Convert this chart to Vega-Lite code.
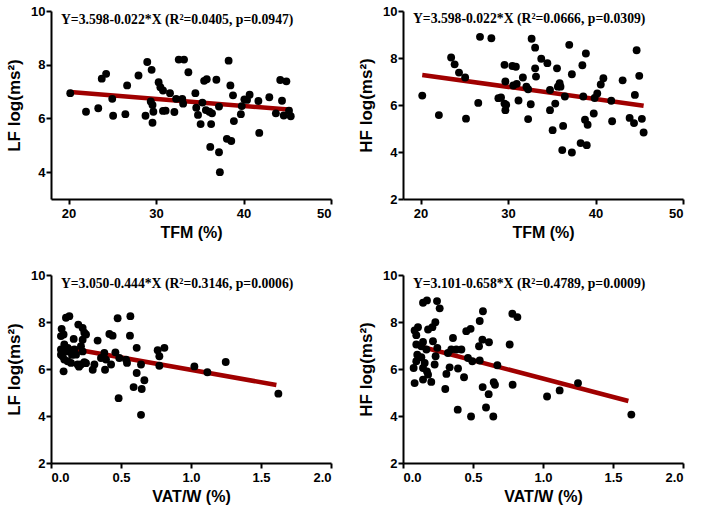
{
  "$schema": "https://vega.github.io/schema/vega-lite/v6.json",
  "padding": 5,
  "background": "white",
  "bounds": "flush",
  "columns": 2,
  "spacing": {"row": 76, "column": 72},
  "config": {
    "view": {"stroke": null},
    "axis": {
      "grid": false, "domainColor": "black", "domainWidth": 2, "tickColor": "black", "tickWidth": 2, "tickSize": 5,
      "labelFont": "Liberation Sans", "labelFontWeight": "bold", "labelFontSize": 13, "labelColor": "black",
      "titleFont": "Liberation Sans", "titleFontWeight": "bold", "titleFontSize": 17, "titleColor": "black"
    },
    "axisX": {"labelPadding": 3, "titlePadding": 4, "titleFontSize": 16},
    "axisY": {"labelPadding": 1, "titlePadding": 7}
  },
  "datasets": {
    "p1": [
      {"x":20.2,"y":6.94},{"x":22.0,"y":6.25},{"x":23.4,"y":6.38},{"x":23.8,"y":7.48},{"x":24.3,"y":7.66},{"x":25.0,"y":6.73},{"x":25.1,"y":6.1},{"x":26.7,"y":7.23},{"x":26.5,"y":6.16},{"x":28.0,"y":7.6},{"x":29.0,"y":8.1},{"x":28.8,"y":6.1},{"x":29.5,"y":7.81},{"x":29.4,"y":6.63},{"x":29.6,"y":6.5},{"x":29.7,"y":6.25},{"x":29.6,"y":5.84},{"x":30.3,"y":7.35},{"x":30.5,"y":7.16},{"x":30.8,"y":7.04},{"x":30.8,"y":6.28},{"x":31.1,"y":6.29},{"x":31.6,"y":6.94},{"x":32.1,"y":6.24},{"x":32.3,"y":6.73},{"x":32.6,"y":8.19},{"x":33.2,"y":8.19},{"x":33.0,"y":6.73},{"x":33.1,"y":6.55},{"x":33.7,"y":7.72},{"x":34.5,"y":6.94},{"x":34.6,"y":6.4},{"x":34.8,"y":6.13},{"x":35.1,"y":5.79},{"x":35.3,"y":6.59},{"x":35.5,"y":7.4},{"x":35.8,"y":7.46},{"x":35.7,"y":6.31},{"x":36.1,"y":6.25},{"x":36.2,"y":4.94},{"x":36.3,"y":5.79},{"x":36.4,"y":6.19},{"x":36.9,"y":7.44},{"x":37.2,"y":6.44},{"x":37.2,"y":4.74},{"x":37.3,"y":4.0},{"x":38.1,"y":5.24},{"x":38.3,"y":8.15},{"x":38.5,"y":7.23},{"x":38.6,"y":5.16},{"x":38.8,"y":6.86},{"x":38.9,"y":5.9},{"x":39.7,"y":6.16},{"x":39.8,"y":6.46},{"x":40.1,"y":6.71},{"x":40.4,"y":6.69},{"x":40.7,"y":6.88},{"x":41.7,"y":6.65},{"x":41.8,"y":5.46},{"x":42.95,"y":6.79},{"x":43.7,"y":6.19},{"x":44.2,"y":7.43},{"x":44.4,"y":6.66},{"x":44.6,"y":6.11},{"x":44.9,"y":7.38},{"x":45.2,"y":6.29},{"x":45.4,"y":6.08}
    ],
    "p2": [
      {"x":20.2,"y":6.40},{"x":22.1,"y":5.57},{"x":23.5,"y":8.02},{"x":23.9,"y":7.73},{"x":24.4,"y":7.38},{"x":25.1,"y":7.17},{"x":25.2,"y":5.42},{"x":26.6,"y":6.09},{"x":26.8,"y":8.9},{"x":28.1,"y":8.84},{"x":28.9,"y":6.29},{"x":29.2,"y":6.32},{"x":29.6,"y":7.71},{"x":29.7,"y":7.0},{"x":29.6,"y":6.06},{"x":29.8,"y":6.0},{"x":29.7,"y":5.78},{"x":30.5,"y":7.66},{"x":30.9,"y":7.63},{"x":30.6,"y":6.83},{"x":31.0,"y":6.9},{"x":31.2,"y":6.19},{"x":31.7,"y":7.17},{"x":32.1,"y":6.78},{"x":32.3,"y":6.67},{"x":32.3,"y":5.4},{"x":32.6,"y":6.03},{"x":32.7,"y":8.82},{"x":33.1,"y":8.44},{"x":33.1,"y":7.56},{"x":33.2,"y":7.21},{"x":33.8,"y":7.97},{"x":34.5,"y":7.78},{"x":34.8,"y":6.64},{"x":34.8,"y":5.78},{"x":35.1,"y":4.93},{"x":35.4,"y":6.06},{"x":35.6,"y":7.56},{"x":35.7,"y":6.78},{"x":35.9,"y":6.93},{"x":36.0,"y":6.78},{"x":36.2,"y":4.08},{"x":36.3,"y":5.11},{"x":36.5,"y":6.36},{"x":37.0,"y":8.56},{"x":37.3,"y":7.31},{"x":37.3,"y":3.98},{"x":38.3,"y":4.38},{"x":38.5,"y":7.69},{"x":38.6,"y":6.36},{"x":38.8,"y":5.37},{"x":38.9,"y":8.19},{"x":39.1,"y":5.16},{"x":39.0,"y":4.29},{"x":39.8,"y":5.64},{"x":39.9,"y":6.3},{"x":40.2,"y":6.49},{"x":40.6,"y":6.87},{"x":40.9,"y":7.14},{"x":41.8,"y":6.18},{"x":41.9,"y":5.31},{"x":43.1,"y":7.05},{"x":43.9,"y":5.45},{"x":44.4,"y":5.23},{"x":44.5,"y":6.43},{"x":44.7,"y":8.33},{"x":45.0,"y":7.24},{"x":45.3,"y":5.41},{"x":45.5,"y":4.83}
    ],
    "p3": [
      {"x":0.107,"y":8.18},{"x":0.131,"y":8.25},{"x":0.076,"y":7.71},{"x":0.195,"y":7.89},{"x":0.226,"y":7.75},{"x":0.238,"y":7.54},{"x":0.25,"y":7.47},{"x":0.09,"y":7.47},{"x":0.071,"y":7.40},{"x":0.162,"y":7.28},{"x":0.226,"y":7.25},{"x":0.333,"y":7.21},{"x":0.095,"y":7.04},{"x":0.071,"y":6.83},{"x":0.107,"y":6.75},{"x":0.131,"y":6.75},{"x":0.167,"y":6.83},{"x":0.214,"y":6.97},{"x":0.226,"y":6.75},{"x":0.179,"y":6.61},{"x":0.071,"y":6.61},{"x":0.083,"y":6.54},{"x":0.095,"y":6.40},{"x":0.143,"y":6.26},{"x":0.119,"y":6.33},{"x":0.19,"y":6.19},{"x":0.238,"y":6.29},{"x":0.214,"y":6.19},{"x":0.09,"y":5.9},{"x":0.31,"y":6.19},{"x":0.298,"y":5.97},{"x":0.386,"y":5.97},{"x":0.429,"y":6.19},{"x":0.381,"y":6.68},{"x":0.357,"y":6.47},{"x":0.393,"y":6.40},{"x":0.417,"y":7.49},{"x":0.44,"y":7.42},{"x":0.476,"y":8.16},{"x":0.567,"y":8.25},{"x":0.564,"y":7.42},{"x":0.46,"y":6.71},{"x":0.488,"y":6.47},{"x":0.536,"y":6.40},{"x":0.543,"y":6.26},{"x":0.612,"y":6.9},{"x":0.643,"y":6.19},{"x":0.612,"y":5.83},{"x":0.667,"y":5.52},{"x":0.59,"y":5.23},{"x":0.648,"y":5.15},{"x":0.483,"y":4.76},{"x":0.643,"y":4.05},{"x":0.762,"y":6.8},{"x":0.81,"y":6.9},{"x":0.774,"y":6.54},{"x":0.774,"y":6.14},{"x":1.024,"y":6.11},{"x":1.117,"y":5.86},{"x":1.248,"y":6.3},{"x":1.624,"y":4.95},{"x":0.12,"y":6.9},{"x":0.15,"y":6.6},{"x":0.2,"y":6.1},{"x":0.25,"y":6.25}
    ],
    "p4": [
      {"x":0.143,"y":8.82},{"x":0.171,"y":8.92},{"x":0.243,"y":8.89},{"x":0.262,"y":8.58},{"x":0.571,"y":8.46},{"x":0.781,"y":8.35},{"x":0.817,"y":8.21},{"x":0.548,"y":8.04},{"x":0.231,"y":7.99},{"x":0.107,"y":7.78},{"x":0.083,"y":7.64},{"x":0.095,"y":7.44},{"x":0.179,"y":7.68},{"x":0.21,"y":7.78},{"x":0.452,"y":7.61},{"x":0.483,"y":7.71},{"x":0.357,"y":7.32},{"x":0.567,"y":7.25},{"x":0.614,"y":7.14},{"x":0.543,"y":6.97},{"x":0.762,"y":7.04},{"x":0.095,"y":7.04},{"x":0.143,"y":7.15},{"x":0.214,"y":7.18},{"x":0.131,"y":6.97},{"x":0.245,"y":6.9},{"x":0.167,"y":6.83},{"x":0.321,"y":6.68},{"x":0.345,"y":6.83},{"x":0.381,"y":6.83},{"x":0.417,"y":6.83},{"x":0.102,"y":6.61},{"x":0.131,"y":6.5},{"x":0.233,"y":6.54},{"x":0.464,"y":6.47},{"x":0.495,"y":6.33},{"x":0.548,"y":6.36},{"x":0.095,"y":6.33},{"x":0.155,"y":6.26},{"x":0.226,"y":6.19},{"x":0.674,"y":6.16},{"x":0.076,"y":6.04},{"x":0.143,"y":6.04},{"x":0.171,"y":5.9},{"x":0.333,"y":6.07},{"x":0.393,"y":6.02},{"x":0.31,"y":5.79},{"x":0.436,"y":5.65},{"x":0.179,"y":5.76},{"x":0.143,"y":5.55},{"x":0.202,"y":5.45},{"x":0.083,"y":5.4},{"x":0.648,"y":5.44},{"x":0.657,"y":5.33},{"x":0.569,"y":5.23},{"x":0.783,"y":5.33},{"x":0.302,"y":5.15},{"x":0.612,"y":4.93},{"x":0.391,"y":4.27},{"x":0.593,"y":4.36},{"x":0.486,"y":3.98},{"x":0.645,"y":3.98},{"x":1.029,"y":4.83},{"x":1.119,"y":5.09},{"x":1.25,"y":5.4},{"x":1.631,"y":4.06}
    ],
    "l1": [{"x":20.2,"y":6.98},{"x":45.5,"y":6.32}],
    "l2": [{"x":20.2,"y":7.28},{"x":45.5,"y":5.97}],
    "l3": [{"x":0.08,"y":6.94},{"x":1.61,"y":5.32}],
    "l4": [{"x":0.11,"y":6.98},{"x":1.61,"y":4.64}],
    "t1": [{"x":19.14,"y":9.5,"label":"Y=3.598-0.022*X (R²=0.0405, p=0.0947)"}],
    "t2": [{"x":19.14,"y":9.48,"label":"Y=3.598-0.022*X (R²=0.0666, p=0.0309)"}],
    "t3": [{"x":0.071,"y":9.46,"label":"Y=3.050-0.444*X (R²=0.3146, p=0.0006)"}],
    "t4": [{"x":0.071,"y":9.46,"label":"Y=3.101-0.658*X (R²=0.4789, p=0.0009)"}]
  },
  "concat": [
    {
      "width": 280, "height": 188,
      "encoding": {
        "x": {"field": "x", "type": "quantitative", "scale": {"domain": [18, 50], "nice": false, "zero": false}, "axis": {"values": [20, 30, 40, 50], "title": "TFM (%)"}},
        "y": {"field": "y", "type": "quantitative", "scale": {"domain": [3, 10], "nice": false, "zero": false}, "axis": {"values": [4, 6, 8, 10], "title": "LF log(ms²)"}}
      },
      "layer": [
        {"data": {"name": "l1"}, "mark": {"type": "line", "color": "#a00000", "strokeWidth": 4.5}},
        {"data": {"name": "p1"}, "mark": {"type": "circle", "size": 62, "color": "black", "opacity": 1}},
        {"data": {"name": "t1"}, "mark": {"type": "text", "align": "left", "baseline": "alphabetic", "font": "Liberation Serif", "fontWeight": "bold", "fontSize": 13.7, "color": "black"}, "encoding": {"text": {"field": "label"}}}
      ]
    },
    {
      "width": 280, "height": 188,
      "encoding": {
        "x": {"field": "x", "type": "quantitative", "scale": {"domain": [18, 50], "nice": false, "zero": false}, "axis": {"values": [20, 30, 40, 50], "title": "TFM (%)"}},
        "y": {"field": "y", "type": "quantitative", "scale": {"domain": [2, 10], "nice": false, "zero": false}, "axis": {"values": [2, 4, 6, 8, 10], "title": "HF log(ms²)"}}
      },
      "layer": [
        {"data": {"name": "l2"}, "mark": {"type": "line", "color": "#a00000", "strokeWidth": 4.5}},
        {"data": {"name": "p2"}, "mark": {"type": "circle", "size": 62, "color": "black", "opacity": 1}},
        {"data": {"name": "t2"}, "mark": {"type": "text", "align": "left", "baseline": "alphabetic", "font": "Liberation Serif", "fontWeight": "bold", "fontSize": 13.7, "color": "black"}, "encoding": {"text": {"field": "label"}}}
      ]
    },
    {
      "width": 280, "height": 188,
      "encoding": {
        "x": {"field": "x", "type": "quantitative", "scale": {"domain": [0, 2], "nice": false, "zero": false}, "axis": {"values": [0, 0.5, 1, 1.5, 2], "format": ".1f", "title": "VAT/W (%)"}},
        "y": {"field": "y", "type": "quantitative", "scale": {"domain": [2, 10], "nice": false, "zero": false}, "axis": {"values": [2, 4, 6, 8, 10], "title": "LF log(ms²)"}}
      },
      "layer": [
        {"data": {"name": "l3"}, "mark": {"type": "line", "color": "#a00000", "strokeWidth": 4.5}},
        {"data": {"name": "p3"}, "mark": {"type": "circle", "size": 62, "color": "black", "opacity": 1}},
        {"data": {"name": "t3"}, "mark": {"type": "text", "align": "left", "baseline": "alphabetic", "font": "Liberation Serif", "fontWeight": "bold", "fontSize": 13.7, "color": "black"}, "encoding": {"text": {"field": "label"}}}
      ]
    },
    {
      "width": 280, "height": 188,
      "encoding": {
        "x": {"field": "x", "type": "quantitative", "scale": {"domain": [0, 2], "nice": false, "zero": false}, "axis": {"values": [0, 0.5, 1, 1.5, 2], "format": ".1f", "title": "VAT/W (%)"}},
        "y": {"field": "y", "type": "quantitative", "scale": {"domain": [2, 10], "nice": false, "zero": false}, "axis": {"values": [2, 4, 6, 8, 10], "title": "HF log(ms²)"}}
      },
      "layer": [
        {"data": {"name": "l4"}, "mark": {"type": "line", "color": "#a00000", "strokeWidth": 4.5}},
        {"data": {"name": "p4"}, "mark": {"type": "circle", "size": 62, "color": "black", "opacity": 1}},
        {"data": {"name": "t4"}, "mark": {"type": "text", "align": "left", "baseline": "alphabetic", "font": "Liberation Serif", "fontWeight": "bold", "fontSize": 13.7, "color": "black"}, "encoding": {"text": {"field": "label"}}}
      ]
    }
  ]
}
